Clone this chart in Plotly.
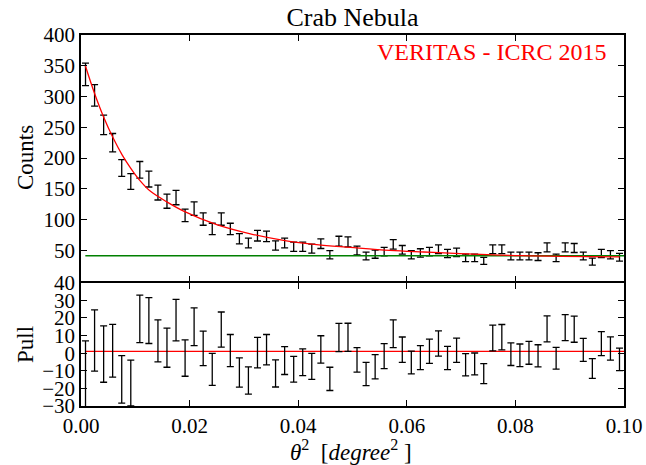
import plotly.graph_objects as go

# ---- data ----
theta2 = [0.00083, 0.0025, 0.00417, 0.00583, 0.0075, 0.00917, 0.01083, 0.0125, 0.01417, 0.01583,
          0.0175, 0.01917, 0.02083, 0.0225, 0.02417, 0.02583, 0.0275, 0.02917, 0.03083, 0.0325,
          0.03417, 0.03583, 0.0375, 0.03917, 0.04083, 0.0425, 0.04417, 0.04583, 0.0475, 0.04917,
          0.05083, 0.0525, 0.05417, 0.05583, 0.0575, 0.05917, 0.06083, 0.0625, 0.06417, 0.06583,
          0.0675, 0.06917, 0.07083, 0.0725, 0.07417, 0.07583, 0.0775, 0.07917, 0.08083, 0.0825,
          0.08417, 0.08583, 0.0875, 0.08917, 0.09083, 0.0925, 0.09417, 0.09583, 0.0975, 0.09917]

counts = [336, 302, 254, 225, 184, 162, 181, 166, 144, 130,
          136, 107, 118, 101, 85, 101, 85, 69, 62, 74,
          73, 58, 62, 56, 56, 53, 61, 43, 65, 64,
          50, 41, 44, 48, 60, 51, 43, 46, 48, 52,
          45, 47, 38, 38, 33, 52, 52, 41, 41, 41,
          40, 55, 38, 55, 54, 41, 32, 45, 43, 39]

count_err = [18.3, 17.4, 15.9, 15.0, 13.6, 12.7, 13.5, 12.9, 12.0, 11.4,
             11.7, 10.3, 10.9, 10.0, 9.2, 10.0, 9.2, 8.3, 7.9, 8.6,
             8.5, 7.6, 7.9, 7.5, 7.5, 7.3, 7.8, 6.6, 8.1, 8.0,
             7.1, 6.4, 6.6, 6.9, 7.7, 7.1, 6.6, 6.8, 6.9, 7.2,
             6.7, 6.9, 6.2, 6.2, 5.7, 7.2, 7.2, 6.4, 6.4, 6.4,
             6.3, 7.4, 6.2, 7.4, 7.3, 6.4, 5.7, 6.7, 6.6, 6.2]

pull = [-12.0, 7.2, -0.5, 1.4, -14.9, -17.0, 19.5, 18.5, 7.0, 3.1,
        18.8, -2.8, 15.0, 2.7, -9.2, 13.4, 1.5, -11.0, -15.5, 0.3,
        2.0, -11.5, -4.2, -9.1, -5.2, -7.5, 2.1, -14.6, 8.9, 9.0,
        -3.8, -11.8, -7.7, -1.7, 11.0, 2.0, -5.3, -2.5, 1.1, 5.5,
        -2.7, 1.7, -6.6, -6.1, -11.6, 8.6, 9.1, -0.6, -1.2, 0.2,
        -1.5, 13.8, -2.9, 14.5, 13.6, 1.9, -8.7, 5.4, 2.7, -3.5]

pull_err = [19.0, 17.4, 16.0, 15.0, 13.5, 13.0, 13.5, 13.0, 11.9, 11.1,
            11.8, 10.3, 10.7, 9.8, 9.1, 10.0, 9.1, 8.3, 7.7, 8.7,
            8.6, 7.7, 7.9, 7.3, 7.6, 7.4, 7.8, 6.6, 8.0, 8.0,
            7.0, 6.6, 6.9, 7.1, 7.9, 7.2, 6.5, 6.8, 6.9, 7.2,
            6.6, 6.9, 6.3, 6.2, 5.7, 7.3, 7.2, 6.4, 6.4, 6.5,
            6.3, 7.4, 6.2, 7.4, 7.4, 6.5, 5.6, 6.8, 6.6, 6.4]

# fitted model curve
fit_x = [0.0008, 0.0025, 0.0042, 0.0059, 0.0076, 0.0092, 0.0109, 0.0128, 0.0158, 0.0189,
         0.025, 0.0312, 0.0373, 0.0434, 0.0496, 0.0569, 0.0631, 0.0698, 0.0812, 0.0992]
fit_y = [350, 305, 266, 233, 205, 183, 163, 146, 129, 114,
         92, 77, 66.4, 59.4, 55, 50.2, 47.5, 44.8, 41.5, 39.5]

bkg_x = [0.0008, 0.1]
bkg_y = [41.5, 41.5]

pull_line_x = [0.0008, 0.1]
pull_line_y = [1.0, 1.0]

count_ticks = [50, 100, 150, 200, 250, 300, 350, 400]
pull_ticks = [-30, -20, -10, 0, 10, 20, 30, 40]
pull_ticktext = ["\u221230", "\u221220", "\u221210", "0", "10", "20", "30", "40"]
x_ticks = [0.0, 0.02, 0.04, 0.06, 0.08, 0.10]
x_ticktext = ["0.00", "0.02", "0.04", "0.06", "0.08", "0.10"]

FONT = "Liberation Serif"

fig = go.Figure()

# top panel
fig.add_trace(go.Scatter(
    x=theta2, y=counts, mode="markers",
    marker=dict(size=2, color="rgba(0,0,0,0)"),
    error_y=dict(type="data", array=count_err, color="black", thickness=1.3, width=3.5),
    xaxis="x2", yaxis="y2", showlegend=False, hoverinfo="skip"))
fig.add_trace(go.Scatter(
    x=bkg_x, y=bkg_y, mode="lines", line=dict(color="#008000", width=1.5),
    xaxis="x2", yaxis="y2", showlegend=False))
fig.add_trace(go.Scatter(
    x=fit_x, y=fit_y, mode="lines", line=dict(color="red", width=1.3, shape="spline"),
    xaxis="x2", yaxis="y2", showlegend=False))

# bottom panel
fig.add_trace(go.Scatter(
    x=pull_line_x, y=pull_line_y, mode="lines", line=dict(color="red", width=1.3),
    xaxis="x", yaxis="y", showlegend=False))
fig.add_trace(go.Scatter(
    x=theta2, y=pull, mode="markers",
    marker=dict(size=2, color="rgba(0,0,0,0)"),
    error_y=dict(type="data", array=pull_err, color="black", thickness=1.3, width=3.5),
    xaxis="x", yaxis="y", showlegend=False, hoverinfo="skip"))

axis_common = dict(showline=True, linecolor="black", linewidth=1.5, mirror="ticks",
                   ticks="inside", ticklen=6, tickwidth=1, tickcolor="black",
                   showgrid=False, zeroline=False, automargin=False,
                   tickfont=dict(family=FONT, size=21, color="black"))

H = 371.0
split = 124 / H
gap = 0.75 / H

fig.update_layout(
    width=646, height=465,
    margin=dict(l=81, r=22, t=35, b=59, autoexpand=False),
    paper_bgcolor="white", plot_bgcolor="white",
    font=dict(family=FONT, color="black"),
    title=dict(text="Crab Nebula", x=0.5, xref="paper", xanchor="center",
               y=1 - 17 / 465, yanchor="middle", font=dict(family=FONT, size=26, color="black")),
    xaxis=dict(domain=[0, 1], range=[0, 0.1], anchor="y", tickvals=x_ticks, ticktext=x_ticktext,
               **axis_common),
    yaxis=dict(domain=[0, split - gap], range=[-30, 40], anchor="x", tickvals=pull_ticks,
               ticktext=pull_ticktext, **axis_common),
    xaxis2=dict(domain=[0, 1], range=[0, 0.1], anchor="y2", tickvals=x_ticks, showticklabels=False,
                matches="x", **axis_common),
    yaxis2=dict(domain=[split + gap, 1], range=[0, 400], anchor="x2", tickvals=count_ticks,
                **axis_common),
    annotations=[
        dict(text="VERITAS - ICRC 2015", xref="paper", yref="paper", x=0.9705, y=(406 - 52) / H,
             xanchor="right", yanchor="middle", showarrow=False,
             font=dict(family=FONT, size=24, color="red")),
        dict(text="Counts", xref="paper", yref="paper", x=(25 - 81) / 543, y=(406 - 158) / H,
             xanchor="center", yanchor="middle", textangle=-90, showarrow=False,
             font=dict(family=FONT, size=23, color="black")),
        dict(text="Pull", xref="paper", yref="paper", x=(25 - 81) / 543, y=(406 - 345) / H,
             xanchor="center", yanchor="middle", textangle=-90, showarrow=False,
             font=dict(family=FONT, size=23, color="black")),
        dict(text="<i>θ</i><sup>2</sup>  [<i>degree</i><sup>2</sup> ]", xref="paper", yref="paper",
             x=(351 - 81) / 543, y=(406 - 450) / H, xanchor="center", yanchor="middle",
             showarrow=False, font=dict(family=FONT, size=23, color="black")),
    ],
)

fig.write_html("out.html", config={"displayModeBar": False},
               post_script="document.body.style.margin='0';document.body.style.overflow='hidden';")
